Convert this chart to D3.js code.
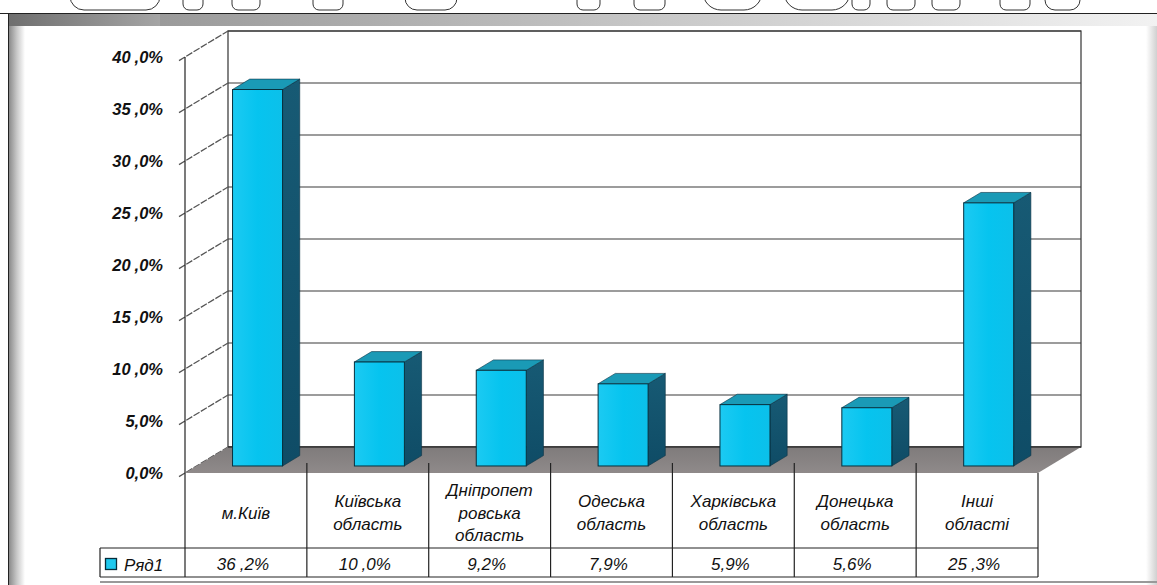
<!DOCTYPE html>
<html><head><meta charset="utf-8">
<script src="https://cdn.jsdelivr.net/npm/d3@7"></script>
<style>html,body{margin:0;padding:0;background:#fff;overflow:hidden}svg{display:block}</style>
</head><body>
<svg id="c" width="1157" height="585"></svg>
<script>
// ---- data ----
const categories = ["м.Київ","Київська область","Дніпропетровська область","Одеська область","Харківська область","Донецька область","Інші області"];
const categoryLines = [["м.Київ"],["Київська","область"],["Дніпропет","ровська","область"],["Одеська","область"],["Харківська","область"],["Донецька","область"],["Інші","області"]];
const values = [36.2, 10.0, 9.2, 7.9, 5.9, 5.6, 25.3];
const yTicks = [0, 5, 10, 15, 20, 25, 30, 35, 40];
const seriesName = "Ряд1";

// ---- layout ----
const svg = d3.select("#c");
const W = 1157, H = 585;
const FONT = "'Liberation Sans', Arial, sans-serif";
const DX = 43, DY = 26;                 // depth projection
const plotLeft = 185, plotRight = 1038;
const y = d3.scaleLinear().domain([0, 40]).range([473, 57]);
const x = d3.scaleBand().domain(categories).range([plotLeft, plotRight]).padding(0);
const proj = (px, py, d) => [px + DX * d, py - DY * d];
const rowSplit = 548, tableBottom = 577, legendLeft = 100;

const defs = svg.append("defs");
function lin(id, x1, y1, x2, y2, stops) {
  const g = defs.append("linearGradient").attr("id", id)
    .attr("x1", x1).attr("y1", y1).attr("x2", x2).attr("y2", y2);
  stops.forEach(s => g.append("stop").attr("offset", s[0]).attr("stop-color", s[1]));
}
lin("topBandL", 0, 0, 1, 0, [[0, "#6e6e6e"], [1, "#a5a5a5"]]);
lin("topBandR", 0, 0, 1, 0, [[0, "#9a9a9a"], [0.5, "#c8c8c8"], [1, "#f2f2f2"]]);
lin("leftBand", 0, 0, 1, 0, [[0, "#8a8a8a"], [0.5, "#c9c9c9"], [1, "#ffffff"]]);
lin("rightBand", 0, 0, 1, 0, [[0, "#ffffff"], [1, "#d0d0d0"]]);
lin("front", 0, 0, 1, 0, [[0, "#1ccaf2"], [0.5, "#06c4ef"], [1, "#0cc0ea"]]);
lin("side", 0, 0, 0, 1, [[0, "#175a74"], [1, "#0f4c66"]]);
lin("floorG", 0, 0, 0, 1, [[0, "#7f7b7b"], [1, "#8f8a8a"]]);

// ---- frame ----
svg.append("rect").attr("x", 0).attr("y", 0).attr("width", W).attr("height", H).attr("fill", "#fff");
svg.append("rect").attr("x", 8).attr("y", 14).attr("width", 152).attr("height", 12).attr("fill", "url(#topBandL)");
svg.append("rect").attr("x", 160).attr("y", 14).attr("width", W - 160).attr("height", 12).attr("fill", "url(#topBandR)");
svg.append("rect").attr("x", 9).attr("y", 26).attr("width", 16).attr("height", H - 26).attr("fill", "url(#leftBand)");
svg.append("rect").attr("x", 1146).attr("y", 26).attr("width", 11).attr("height", H - 26).attr("fill", "url(#rightBand)");
svg.append("line").attr("x1", 0).attr("x2", W).attr("y1", 13.5).attr("y2", 13.5).attr("stroke", "#222").attr("stroke-width", 1);
svg.append("line").attr("x1", 8.5).attr("x2", 8.5).attr("y1", 14).attr("y2", H).attr("stroke", "#222").attr("stroke-width", 1);
svg.append("line").attr("x1", 100).attr("x2", W).attr("y1", 582).attr("y2", 582).attr("stroke", "#999").attr("stroke-width", 2);

// decorative cut-off outline letters of the slide title above the frame
defs.append("clipPath").attr("id", "decoClip").append("rect").attr("x", 0).attr("y", 0).attr("width", W).attr("height", 12);
const deco = svg.append("g").attr("clip-path", "url(#decoClip)");
[[70,160,14],[183,203,6],[232,260,6],[313,343,6],[405,457,12],[577,600,6],[634,665,6],[703,762,18],[784,850,18],[852,870,6],[887,915,6],[932,960,6],[1000,1030,6],[1045,1080,10]]
  .forEach(s => deco.append("rect").attr("x", s[0]).attr("y", -40).attr("width", s[1] - s[0]).attr("height", 50)
    .attr("rx", s[2]).attr("fill", "none").attr("stroke", "#333").attr("stroke-width", 1));

// ---- back wall ----
const backTL = proj(plotLeft, y(40), 1), backBR = proj(plotRight, y(0), 1);
svg.append("rect").attr("x", backTL[0]).attr("y", backTL[1])
  .attr("width", backBR[0] - backTL[0]).attr("height", backBR[1] - backTL[1])
  .attr("fill", "#fff").attr("stroke", "#333").attr("stroke-width", 1.2);
svg.append("g").selectAll("line").data(yTicks).join("line")
  .attr("x1", backTL[0]).attr("x2", backBR[0])
  .attr("y1", d => y(d) - DY).attr("y2", d => y(d) - DY)
  .attr("stroke", "#3a3a3a").attr("stroke-width", 1.2);

// side wall lines
svg.append("g").selectAll("line").data(yTicks).join("line")
  .attr("x1", plotLeft - 6).attr("y1", d => y(d) + 3.6)
  .attr("x2", plotLeft + DX).attr("y2", d => y(d) - DY)
  .attr("stroke", "#555").attr("stroke-width", 1.3).attr("stroke-dasharray", "7,1.5");

// floor
const fl = [proj(plotLeft, y(0), 0), proj(plotRight, y(0), 0), proj(plotRight, y(0), 1), proj(plotLeft, y(0), 1)];
svg.append("path").attr("d", "M" + fl.map(p => p.join(",")).join("L") + "Z").attr("fill", "url(#floorG)");
svg.append("line").attr("x1", fl[3][0]).attr("x2", fl[2][0]).attr("y1", fl[3][1]).attr("y2", fl[2][1])
  .attr("stroke", "#333").attr("stroke-width", 1.5);

// front axis
svg.append("line").attr("x1", plotLeft).attr("x2", plotLeft).attr("y1", y(40)).attr("y2", tableBottom)
  .attr("stroke", "#222").attr("stroke-width", 1.2);

// y tick labels
function gapText(sel, v, dec) {
  const s = d3.format("." + dec + "f")(v).replace(".", ",");
  const parts = s.split(",");
  sel.append("tspan").text(parts[0]);
  sel.append("tspan").attr("dx", parts[0].length > 1 ? 4 : 0).text("," + parts[1] + "%");
}
svg.append("g").selectAll("text").data(yTicks).join("text")
  .attr("x", 163).attr("y", d => y(d)).attr("dy", "0.36em").attr("text-anchor", "end")
  .attr("font-family", FONT).attr("font-size", 16.5).attr("font-weight", "bold").attr("font-style", "italic")
  .attr("fill", "#111")
  .each(function(d) { gapText(d3.select(this), d, 1); });

// ---- bars ----
const BW = 50, D0 = 0.27, D1 = 0.67;
const bars = svg.append("g");
categories.forEach((c, i) => {
  const cx = x(c) + x.bandwidth() / 2;
  const xl = cx - BW / 2, xr = cx + BW / 2;
  const yt = y(values[i]), yb = y(0);
  const g = bars.append("g");
  const p = (a, b, d) => proj(a, b, d).join(",");
  g.append("path").attr("d", `M${p(xr, yt, D0)}L${p(xr, yt, D1)}L${p(xr, yb, D1)}L${p(xr, yb, D0)}Z`)
    .attr("fill", "url(#side)").attr("stroke", "#0a3344").attr("stroke-width", 0.6);
  g.append("path").attr("d", `M${p(xl, yt, D0)}L${p(xl, yt, D1)}L${p(xr, yt, D1)}L${p(xr, yt, D0)}Z`)
    .attr("fill", "#1a9ab6").attr("stroke", "#0a3344").attr("stroke-width", 0.6);
  const f = proj(xl, yt, D0);
  g.append("rect").attr("x", f[0]).attr("y", f[1]).attr("width", BW).attr("height", yb - yt)
    .attr("fill", "url(#front)").attr("stroke", "#06303e").attr("stroke-width", 1);
});

// ---- data table ----
const tbl = svg.append("g").attr("stroke", "#222").attr("stroke-width", 1.2);
tbl.append("line").attr("x1", legendLeft).attr("x2", plotRight).attr("y1", rowSplit).attr("y2", rowSplit);
tbl.append("line").attr("x1", legendLeft).attr("x2", plotRight).attr("y1", tableBottom).attr("y2", tableBottom);
tbl.append("line").attr("x1", legendLeft).attr("x2", legendLeft).attr("y1", rowSplit).attr("y2", tableBottom);
tbl.append("line").attr("x1", plotRight).attr("x2", plotRight).attr("y1", y(0)).attr("y2", tableBottom);
tbl.selectAll(".sep").data(categories.slice(1)).join("line")
  .attr("x1", d => x(d)).attr("x2", d => x(d)).attr("y1", y(0) - 10).attr("y2", tableBottom);

// category labels
svg.append("g").selectAll("text").data(categories).join("text")
  .attr("font-family", FONT).attr("font-size", 17).attr("font-style", "italic").attr("fill", "#111")
  .attr("text-anchor", "middle")
  .each(function(d, i) {
    const lines = categoryLines[i];
    const cx = x(d) + x.bandwidth() / 2;
    const lh = 22.5, mid = (y(0) + rowSplit) / 2 + 2;
    lines.forEach((t, k) => {
      d3.select(this).append("tspan").attr("x", cx)
        .attr("y", mid + (k - (lines.length - 1) / 2) * lh).attr("dy", "0.36em").text(t);
    });
  });

// values row
svg.append("g").selectAll("text").data(values).join("text")
  .attr("x", (d, i) => x(categories[i]) + x.bandwidth() / 2 - 3)
  .attr("y", (rowSplit + tableBottom) / 2 + 1).attr("dy", "0.36em").attr("text-anchor", "middle")
  .attr("font-family", FONT).attr("font-size", 17).attr("font-style", "italic").attr("fill", "#111")
  .each(function(d) { gapText(d3.select(this), d, 1); });

// legend key
svg.append("rect").attr("x", 105.5).attr("y", 558.5).attr("width", 11).attr("height", 11)
  .attr("fill", "#1ec8ee").attr("stroke", "#062c3a").attr("stroke-width", 1.3);
svg.append("text").attr("x", 124).attr("y", (rowSplit + tableBottom) / 2 + 2).attr("dy", "0.36em")
  .attr("font-family", FONT).attr("font-size", 17).attr("font-style", "italic").attr("fill", "#111")
  .text(seriesName);
</script>
</body></html>
